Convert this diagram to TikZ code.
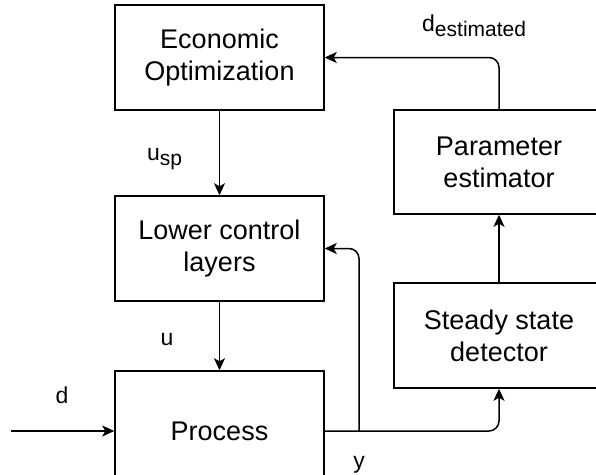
\documentclass[tikz,border=0pt]{standalone}
\usepackage{fontspec}
\setmainfont{Liberation Sans}
\usetikzlibrary{arrows.meta}
\usetikzlibrary{positioning}

\newcommand{\lowsub}[1]{\raisebox{-5pt}{\fontsize{21}{24}\selectfont #1}}

\begin{document}
\begin{tikzpicture}[x=1pt,y=-1pt,
  block/.style={draw,line width=1.5pt,minimum width=209pt,minimum height=105pt,
    align=center,inner sep=0pt,font=\fontsize{27}{32}\selectfont},
  sig/.style={line width=1.5pt,rounded corners=10pt,
    -{Stealth[length=12pt,width=11pt,inset=3pt]}},
  lbl/.style={inner sep=0pt,font=\fontsize{23}{27}\selectfont}]
\clip (0,0) rectangle (596,474);

\node[block] (econ) at (219.5,57.5) {Economic\\Optimization};
\node[block] (lower) at (219.5,248.5) {Lower control\\layers};
\node[block,minimum height=120pt] (proc) at (219.5,431) {Process};
\node[block,minimum width=210pt,minimum height=104pt] (param) at (499,162) {Parameter\\estimator};
\node[block,minimum width=210pt] (steady) at (499,335.5) {Steady state\\detector};

\coordinate (din) at (11,431);
\coordinate (ysplit) at (359,431);

\draw[sig] (din) -- (proc.west);
\draw[sig] (econ.south) -- (lower.north);
\draw[sig] (lower.south) -- (proc.north);
\draw[sig] (proc.east) -| (steady.south);
\draw[sig] (ysplit) |- (lower.east);
\draw[sig] (steady.north) -- (param.south);
\draw[sig] (param.north) |- (econ.east);

\node[lbl,anchor=base west] (usp) at (147,160) {u\lowsub{sp}};
\node[lbl,anchor=base] (ulbl) at (167,345) {u};
\node[lbl,anchor=base] (dlbl) at (62,403) {d};
\node[lbl,anchor=base] (ylbl) at (359,468) {y};
\node[lbl,anchor=base west] (dest) at (422,31) {d\lowsub{estimated}};

\end{tikzpicture}
\end{document}
